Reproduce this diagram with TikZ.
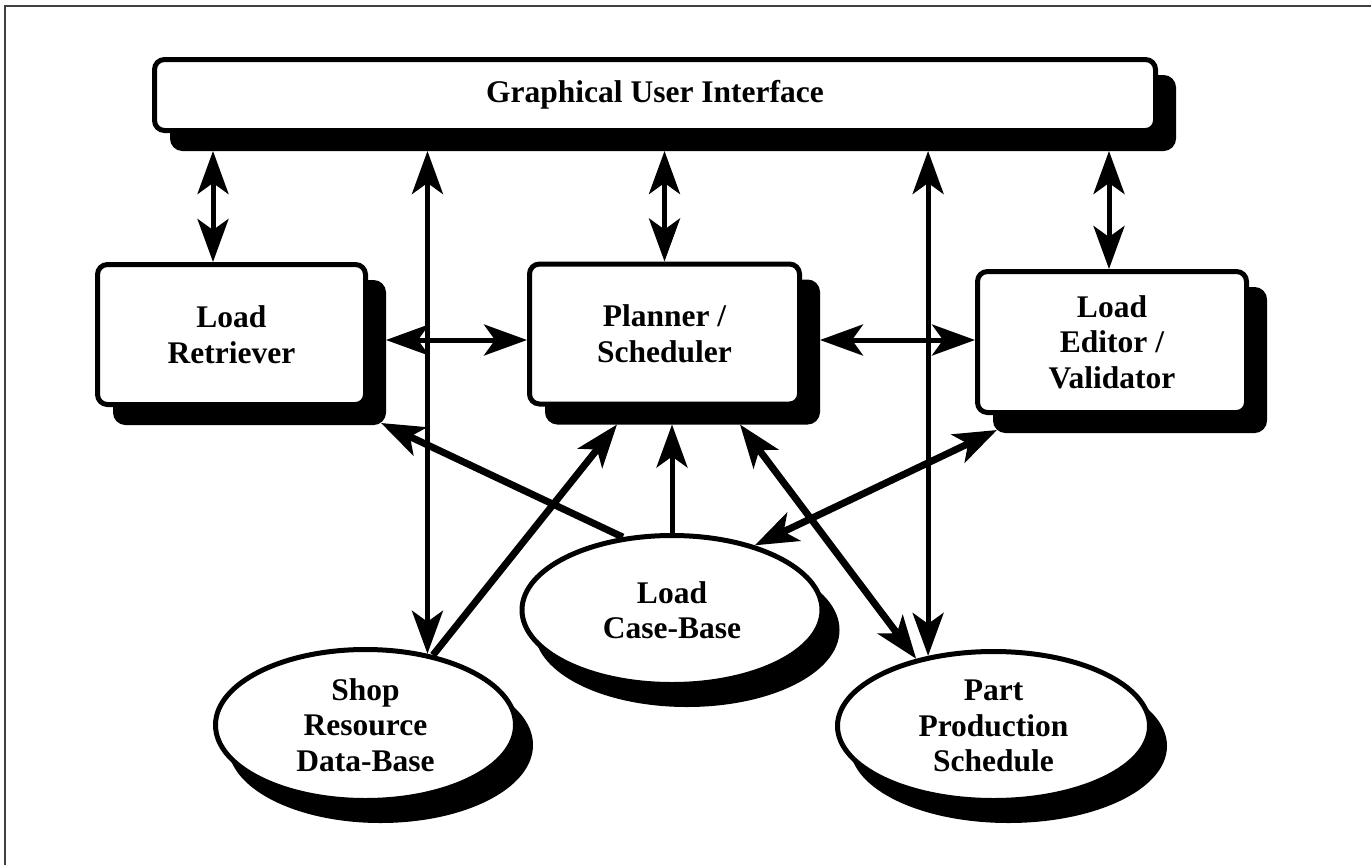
\documentclass[tikz,border=0pt]{standalone}
\usepackage{fontspec}
\setmainfont{Liberation Serif}
\usetikzlibrary{arrows.meta,shapes.geometric,calc}
\begin{document}
\begin{tikzpicture}[x=1pt,y=-1pt,
  >={Stealth[length=43pt,width=31pt,inset=11pt]},
  box/.style={draw=black,fill=white,line width=5pt,rounded corners=10pt,
    inner sep=0pt,outer sep=2.5pt,minimum width=268pt,minimum height=140pt},
  boxshadow/.style={box,fill=black},
  ell/.style={ellipse,draw=black,fill=white,line width=5pt,inner sep=0pt,outer sep=2.5pt},
  ellshadow/.style={ell,fill=black},
  lbl/.style={font=\fontsize{31.5}{35.5}\selectfont\bfseries,align=center,inner sep=0pt},
  con/.style={line width=5pt},
  thk/.style={line width=7pt},
  frame/.style={line width=1.5pt,black!75}
]
\useasboundingbox (0,0) rectangle (1371,865);
\draw[frame] (5,865) -- (5,6) -- (1371,6);

% shadows
\node[boxshadow,minimum width=1001pt,minimum height=71pt] (guis) at (673,113) {};
\node[boxshadow] (rets) at (249.5,352.5) {};
\node[boxshadow,minimum width=270pt] (pls) at (682.5,352) {};
\node[boxshadow,minimum width=269pt,minimum height=141pt] (eds) at (1130,360) {};
\node[ellshadow,minimum width=300pt,minimum height=151pt] (shops) at (380.5,745) {};
\node[ellshadow,minimum width=300pt,minimum height=149pt] (cbs) at (687,630) {};
\node[ellshadow,minimum width=312pt,minimum height=149pt] (parts) at (1008.5,746) {};

% boxes
\node[box,minimum width=1001pt,minimum height=71pt] (gui) at (655,95) {};
\node[lbl] (guit) at (gui.center) {Graphical User Interface};
\node[box] (ret) at (231.5,334.5) {};
\node[lbl] (rett) at (ret.center) {Load\\Retriever};
\node[box,minimum width=270pt] (pl) at (664.5,334) {};
\node[lbl] (plt) at (pl.center) {Planner /\\Scheduler};
\node[box,minimum width=269pt,minimum height=141pt] (ed) at (1112,342) {};
\node[lbl] (edt) at (ed.center) {Load\\Editor /\\Validator};

% ellipses
\node[ell,minimum width=300pt,minimum height=151pt] (shop) at (365.5,725) {};
\node[lbl] (shopt) at (shop.center) {Shop\\Resource\\Data-Base};
\node[ell,minimum width=300pt,minimum height=149pt] (cb) at (672,610) {};
\node[lbl] (cbt) at (cb.center) {Load\\Case-Base};
\node[ell,minimum width=312pt,minimum height=149pt] (part) at (993.5,726) {};
\node[lbl] (partt) at (part.center) {Part\\Production\\Schedule};

% helper coordinates
\coordinate (hy) at (0,340);
\coordinate (c1) at ([xshift=-18.5pt]ret.north);
\coordinate (c3) at ([xshift=-3pt]ed.north);
\coordinate (rtip) at ([xshift=-5pt,yshift=2pt]rets.south east);
\coordinate (ptip1) at ([xshift=72pt]pls.south west);
\coordinate (ptip2) at ([xshift=195pt]pls.south west);
\coordinate (etip) at ([xshift=4pt,yshift=3pt]eds.south west);

% GUI connections
\draw[con,<->] (c1 |- guis.south) -- (c1);
\draw[con,<->] (pl.north |- guis.south) -- (pl.north);
\draw[con,<->] (c3 |- guis.south) -- (c3);
\draw[con,<->] (shop.49 |- guis.south) -- (shop.49);
\draw[con,<->] (part.133 |- guis.south) -- (part.133);

% horizontal
\draw[con,<->] (rets.east |- hy) -- (pl.west |- hy);
\draw[con,<->] (pls.east |- hy) -- (ed.west |- hy);

% to / from ellipses
\draw[thk,->] (cb.124) -- (rtip);
\draw[thk,->] (shop.46) -- (ptip1);
\draw[con,->] (cb.north) -- (cb.north |- pls.south);
\draw[thk,<->] (ptip2) -- (part.139);
\draw[thk,<->] (cb.38) -- (etip);
\end{tikzpicture}
\end{document}
